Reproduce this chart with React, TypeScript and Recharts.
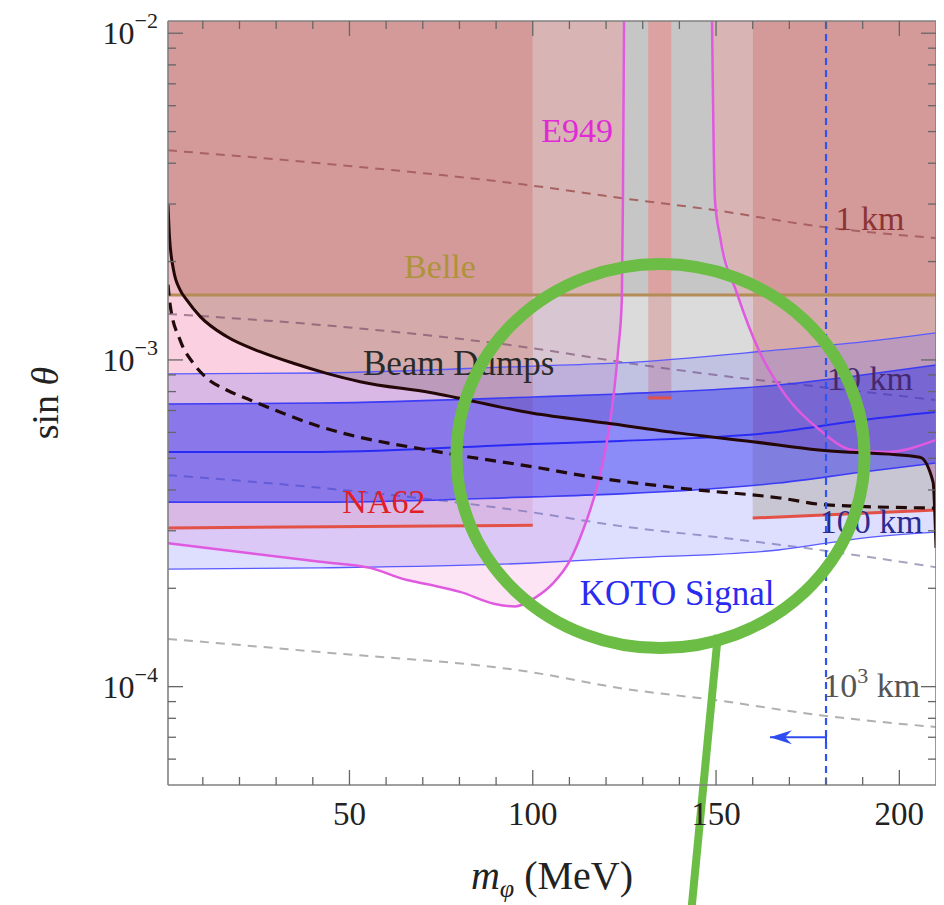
import React from 'react';
import {
  Area,
  ComposedChart,
  Line,
  ReferenceDot,
  ReferenceLine,
  XAxis,
  YAxis,
} from 'recharts';

const SERIF = "'Liberation Serif', 'Times New Roman', serif";

// plot window
const X_MIN = 0.5;
const X_MAX = 210;
const BOTTOM = 5e-5;
const TOP = 1.09e-2;

const xTicks = [10, 20, 30, 40, 50, 60, 70, 80, 90, 100, 110, 120, 130, 140, 150, 160, 170, 180, 190, 200];
const yTicks = [
  6e-5, 7e-5, 8e-5, 9e-5, 1e-4, 2e-4, 3e-4, 4e-4, 5e-4, 6e-4, 7e-4, 8e-4, 9e-4,
  1e-3, 2e-3, 3e-3, 4e-3, 5e-3, 6e-3, 7e-3, 8e-3, 9e-3, 1e-2,
];
const yMajor = [1e-4, 1e-3, 1e-2];

// KOTO signal bands
const kotoX = [0.5, 42, 100, 124, 167, 190, 210];
const kotoOuterLow = [2.29e-4, 2.31e-4, 2.39e-4, 2.47e-4, 2.62e-4, 2.85e-4, 2.97e-4];
const kotoInnerLow = [3.67e-4, 3.67e-4, 3.81e-4, 3.89e-4, 4.2e-4, 4.54e-4, 4.84e-4];
const kotoCentral = [5.23e-4, 5.23e-4, 5.53e-4, 5.65e-4, 6.02e-4, 6.55e-4, 6.93e-4];
const kotoInnerHigh = [7.33e-4, 7.38e-4, 7.7e-4, 7.87e-4, 8.38e-4, 8.99e-4, 9.65e-4];
const kotoOuterHigh = [9.06e-4, 9.12e-4, 9.58e-4, 9.79e-4, 1.073e-3, 1.135e-3, 1.21e-3];

// beam dump bound (solid) and projection (dashed)
const dumpX = [0.5, 0.9, 2, 3.8, 5.6, 9.3, 16.5, 25.6, 34.7, 43.8, 52.9, 72, 100, 120, 140, 160, 178, 205.6, 209.2, 210];
const dumpY = [
  2.98e-3, 2.385e-3, 1.887e-3, 1.639e-3, 1.527e-3, 1.357e-3, 1.179e-3, 1.06e-3, 9.77e-4, 9.1e-4,
  8.58e-4, 7.95e-4, 6.87e-4, 6.41e-4, 5.97e-4, 5.62e-4, 5.3e-4, 5.04e-4, 4.23e-4, 2.66e-4,
];
const dumpDashX = [0.5, 1.1, 3.8, 7.4, 11.1, 16.5, 22.9, 42, 76.5, 100, 115.6, 140.2, 167.4, 180.2, 210];
const dumpDashY = [
  1.7e-3, 1.47e-3, 1.15e-3, 9.77e-4, 8.79e-4, 8.09e-4, 7.54e-4, 6.25e-4, 5.18e-4, 4.71e-4,
  4.39e-4, 4.05e-4, 3.78e-4, 3.6e-4, 3.52e-4,
];

// Belle
const BELLE = 1.58e-3;
const belleX = [0.5, 210];
const belleY = [BELLE, BELLE];

// NA62
const na62LeftX = [0.5, 100];
const na62LeftY = [3.06e-4, 3.12e-4];
const na62RightX = [160, 210];
const na62RightY = [3.28e-4, 3.47e-4];
const na62PeakX = [131.5, 137.8];
const na62PeakY = [7.65e-4, 7.65e-4];

// E949
const e949LeftX = [0.5, 22.9, 42, 55.6, 65.7, 72, 80.2, 89.7, 95.2, 100.6, 105.5, 110.2, 113.7, 117.5, 120.3, 121.9, 123.3, 124.3, 124.6, 124.9];
const e949LeftY = [
  2.75e-4, 2.56e-4, 2.41e-4, 2.31e-4, 2.12e-4, 2.05e-4, 1.95e-4, 1.79e-4, 1.76e-4, 1.87e-4,
  2.07e-4, 2.44e-4, 3.01e-4, 4.08e-4, 5.69e-4, 7.54e-4, 1.073e-3, 1.527e-3, 3.09e-3, 1.09e-2,
];
const e949RightX = [148.9, 149.7, 151.1, 155.7, 162, 169.3, 178.3, 187.3, 196.6, 210];
const e949RightY = [1.09e-2, 3.09e-3, 2.38e-3, 1.6e-3, 1.051e-3, 7.7e-4, 6.1e-4, 5.3e-4, 5.23e-4, 5.69e-4];

// decay length contours
const lengthX = [0.5, 42, 99.5, 124, 150, 178.3, 210];
const km1 = [4.38e-3, 4.0e-3, 3.42e-3, 3.13e-3, 2.87e-3, 2.56e-3, 2.36e-3];
const km10 = [1.383e-3, 1.28e-3, 1.088e-3, 9.86e-4, 8.99e-4, 8.27e-4, 7.54e-4];
const km100 = [4.44e-4, 4.06e-4, 3.42e-4, 3.1e-4, 2.87e-4, 2.62e-4, 2.32e-4];
const km1000 = [1.4e-4, 1.276e-4, 1.108e-4, 9.89e-5, 9.09e-5, 8.18e-5, 7.52e-5];

// kinematic limit and arrow
const KAON_LIMIT = 180;
const arrowX = [164.7, 180];
const arrowY = [7e-5, 7e-5];

// pion window
const windowX = [100, 160];
const e949TopEdge = 124.6;

const labels = [
  { text: 'E949', x: 112.1, y: 4.64e-3, color: '#e02ad8', size: 34 },
  { text: 'Belle', x: 74.7, y: 1.777e-3, color: '#ad933a', size: 34 },
  { text: 'Beam Dumps', x: 79.8, y: 8.99e-4, color: '#2a2a2a', size: 35 },
  { text: 'NA62', x: 59.4, y: 3.4e-4, color: '#e21e26', size: 34 },
  { text: 'KOTO Signal', x: 139.4, y: 1.777e-4, color: '#2a2af0', size: 35 },
  { text: '1 km', x: 192, y: 2.49e-3, color: '#8c3434', size: 34 },
  { text: '10 km', x: 192, y: 8.09e-4, color: '#46286e', size: 34 },
  { text: '100 km', x: 192.3, y: 2.95e-4, color: '#2a2a90', size: 34 },
  { text: '10', sup: '3', after: ' km', x: 192.5, y: 9.29e-5, color: '#555555', size: 34 },
];

// annotation
const circleCenter = { x: 134.85, y: 5.08e-4 };
const pointerLine = [
  { x: 150.5, y: 1.44e-4 },
  { x: 143.4, y: 2.14e-5 },
];

type P = { x: number; y: number };
const pts = (xs: number[], ys: number[]): P[] => xs.map((x, i) => ({ x, y: ys[i] }));
const toTop = (p: P[]) => p.map(({ x, y }) => ({ x, r: [y, TOP] }));
const between = (xs: number[], lo: number[], hi: number[]) => xs.map((x, i) => ({ x, r: [lo[i], hi[i]] }));
const box = (x1: number, x2: number, y1: number, y2: number) => [
  { x: x1, r: [y1, y2] },
  { x: x2, r: [y1, y2] },
];

const dump = pts(dumpX, dumpY);
const dumpLeft = dump.filter((p) => p.x <= windowX[0]);
const dumpRight = dump.filter((p) => p.x >= windowX[1]);
const dumpWindow = dump.filter((p) => p.x >= windowX[0] && p.x <= windowX[1]);
const e949R = pts(e949RightX, e949RightY);

const fills: { key: string; data: any[]; color: string; type?: any }[] = [
  { key: 'e949L', data: toTop(pts(e949LeftX, e949LeftY)), color: '#fce4f4' },
  { key: 'e949R', data: toTop(e949R), color: '#fce4f4' },
  { key: 'na62L', data: toTop(pts(na62LeftX, na62LeftY)), color: '#fbd0e0', type: 'linear' },
  { key: 'bellePink', data: box(na62LeftX[0], windowX[0], BELLE, TOP), color: '#f0bcc6', type: 'linear' },
  { key: 'dumpL', data: toTop(dumpLeft), color: '#d4aaaa' },
  { key: 'belleL', data: dumpLeft.map(({ x, y }) => ({ x, r: [Math.max(y, BELLE), TOP] })), color: '#d49a9a', type: 'linear' },
  { key: 'winLow', data: dumpWindow.map(({ x, y }) => ({ x, r: [y, BELLE] })), color: 'rgba(90,90,90,0.22)' },
  { key: 'winTopL', data: box(windowX[0], e949TopEdge, BELLE, TOP), color: '#d8b4b4', type: 'linear' },
  { key: 'winTopM', data: box(e949TopEdge, windowX[1], BELLE, TOP), color: '#c6c6c6', type: 'linear' },
  {
    key: 'winTopR',
    data: [
      ...e949R.filter((p) => p.x < windowX[1]).map(({ x, y }) => ({ x, r: [Math.max(y, BELLE), TOP] })),
      { x: windowX[1], r: [BELLE, TOP] },
    ],
    color: '#d8b4b4',
    type: 'linear',
  },
  { key: 'peakLow', data: box(na62PeakX[0], na62PeakX[1], na62PeakY[0], BELLE), color: '#d8b6b6', type: 'linear' },
  { key: 'peakTop', data: box(na62PeakX[0], na62PeakX[1], BELLE, TOP), color: '#dca2a2', type: 'linear' },
  { key: 'na62R', data: toTop(pts(na62RightX, na62RightY)), color: '#e4e2c8', type: 'linear' },
  { key: 'dumpR', data: toTop(dumpRight), color: '#d4aaaa' },
  { key: 'belleR', data: box(windowX[1], X_MAX, BELLE, TOP), color: '#d49a9a', type: 'linear' },
];

const contours = [
  { key: 'km1', ys: km1, color: '#a86262' },
  { key: 'km10', ys: km10, color: 'rgba(110,70,100,0.6)' },
  { key: 'km100', ys: km100, color: 'rgba(105,105,150,0.6)' },
  { key: 'km1000', ys: km1000, color: '#b0b0b0' },
];

const AXIS = { stroke: '#808080', strokeWidth: 1.6 };
const TICK = '#666';

const BottomTick = (props: any) => {
  const { x, y, payload } = props;
  const major = payload.value % 50 === 0;
  return (
    <g>
      <line x1={x} x2={x} y1={y} y2={y - (major ? 15 : 8)} stroke={TICK} strokeWidth={1.3} />
      {major && (
        <text x={x} y={y + 40} textAnchor="middle" fontFamily={SERIF} fontSize={33} fill="#222">
          {payload.value}
        </text>
      )}
    </g>
  );
};

const TopTick = (props: any) => {
  const { x, y, payload } = props;
  const major = payload.value % 50 === 0;
  return <line x1={x} x2={x} y1={y} y2={y + (major ? 15 : 8)} stroke={TICK} strokeWidth={1.3} />;
};

const LeftTick = (props: any) => {
  const { x, y, payload } = props;
  const v = payload.value;
  const major = yMajor.includes(v);
  return (
    <g>
      <line x1={x} x2={x + (major ? 15 : 8)} y1={y} y2={y} stroke={TICK} strokeWidth={1.3} />
      {major && (
        <text x={x - 10} y={y + 11} textAnchor="end" fontFamily={SERIF} fontSize={32} fill="#222">
          10
          <tspan fontSize={22} dy={-16}>
            {'\u2212' + Math.abs(Math.round(Math.log10(v)))}
          </tspan>
        </text>
      )}
    </g>
  );
};

const RightTick = (props: any) => {
  const { x, y, payload } = props;
  const major = yMajor.includes(payload.value);
  return <line x1={x} x2={x - (major ? 15 : 8)} y1={y} y2={y} stroke={TICK} strokeWidth={1.3} />;
};

const XLabel = (props: any) => {
  const vb = props.viewBox;
  return (
    <text x={vb.x + vb.width / 2} y={vb.y + 104} textAnchor="middle" fontFamily={SERIF} fontSize={40} fill="#222">
      <tspan fontStyle="italic">m</tspan>
      <tspan fontStyle="italic" fontSize={26} dy={8}>
        φ
      </tspan>
      <tspan dy={-8}> (MeV)</tspan>
    </text>
  );
};

const YLabel = (props: any) => {
  const vb = props.viewBox;
  const cx = vb.x + 37;
  const cy = vb.y + vb.height / 2;
  return (
    <text
      x={cx}
      y={cy}
      transform={`rotate(-90 ${cx} ${cy})`}
      textAnchor="middle"
      dominantBaseline="central"
      fontFamily={SERIF}
      fontSize={38}
      fill="#222"
    >
      sin <tspan fontStyle="italic">θ</tspan>
    </text>
  );
};

const ArrowDot = (props: any) => {
  const { cx, cy, index } = props;
  if (index === 0) {
    return (
      <path key={index} d={`M${cx},${cy} L${cx + 22},${cy - 7} L${cx + 15},${cy} L${cx + 22},${cy + 7} Z`} fill="#2f4cf0" />
    );
  }
  return <line key={index} x1={cx} x2={cx} y1={cy - 6} y2={cy + 6} stroke="#2f4cf0" strokeWidth={2} />;
};

export default function App() {
  return (
    <ComposedChart width={936} height={897} margin={{ top: 12, right: 0, bottom: 0, left: 0 }}>
      {fills.map((f) => (
        <Area
          key={f.key}
          data={f.data}
          dataKey="r"
          type={f.type ?? 'monotone'}
          fill={f.color}
          fillOpacity={1}
          stroke="none"
          isAnimationActive={false}
        />
      ))}

      {contours.map((c) => (
        <Area
          key={c.key}
          data={pts(lengthX, c.ys)}
          dataKey="y"
          type="monotone"
          fill="none"
          stroke={c.color}
          strokeWidth={2}
          strokeDasharray="9 7"
          isAnimationActive={false}
        />
      ))}

      <Area
        data={between(kotoX, kotoOuterLow, kotoOuterHigh)}
        dataKey="r"
        type="monotone"
        fill="rgba(90,90,255,0.2)"
        fillOpacity={1}
        stroke="none"
        isAnimationActive={false}
      />
      <Area
        data={between(kotoX, kotoInnerLow, kotoInnerHigh)}
        dataKey="r"
        type="monotone"
        fill="rgba(40,40,240,0.45)"
        fillOpacity={1}
        stroke="none"
        isAnimationActive={false}
      />

      {[kotoOuterLow, kotoOuterHigh].map((ys, i) => (
        <Line key={`o${i}`} data={pts(kotoX, ys)} dataKey="y" type="monotone" stroke="#5a5aff" strokeWidth={1.3} dot={false} isAnimationActive={false} />
      ))}
      {[kotoInnerLow, kotoInnerHigh].map((ys, i) => (
        <Line key={`i${i}`} data={pts(kotoX, ys)} dataKey="y" type="monotone" stroke="#3c3cf5" strokeWidth={1.6} dot={false} isAnimationActive={false} />
      ))}
      <Line data={pts(kotoX, kotoCentral)} dataKey="y" type="monotone" stroke="#2a2af5" strokeWidth={2} dot={false} isAnimationActive={false} />

      <Line data={pts(belleX, belleY)} dataKey="y" type="linear" stroke="#b48c55" strokeWidth={3} dot={false} isAnimationActive={false} />

      <Line data={pts(na62LeftX, na62LeftY)} dataKey="y" type="linear" stroke="#e25046" strokeWidth={3} dot={false} isAnimationActive={false} />
      <Line data={pts(na62RightX, na62RightY)} dataKey="y" type="linear" stroke="#e25046" strokeWidth={3} dot={false} isAnimationActive={false} />
      <Line data={pts(na62PeakX, na62PeakY)} dataKey="y" type="linear" stroke="#e25046" strokeWidth={3} dot={false} isAnimationActive={false} />

      <Line data={pts(e949LeftX, e949LeftY)} dataKey="y" type="monotone" stroke="#e05ae0" strokeWidth={2.5} dot={false} isAnimationActive={false} />
      <Line data={pts(e949RightX, e949RightY)} dataKey="y" type="monotone" stroke="#e05ae0" strokeWidth={2.5} dot={false} isAnimationActive={false} />

      <Line data={dump} dataKey="y" type="monotone" stroke="#240808" strokeWidth={3} dot={false} isAnimationActive={false} />
      <Line
        data={pts(dumpDashX, dumpDashY)}
        dataKey="y"
        type="monotone"
        stroke="#200a0a"
        strokeWidth={3.2}
        strokeDasharray="11 7"
        dot={false}
        isAnimationActive={false}
      />

      <Line data={pts(arrowX, arrowY)} dataKey="y" type="linear" stroke="#2f4cf0" strokeWidth={2} dot={ArrowDot} isAnimationActive={false} />

      <ReferenceLine x={KAON_LIMIT} stroke="#2f55ee" strokeWidth={2.2} strokeDasharray="7 5" />

      {labels.map((l) => (
        <ReferenceDot
          key={l.text + (l.after ?? '')}
          x={l.x}
          y={l.y}
          r={0}
          ifOverflow="visible"
          shape={(p: any) => (
            <text x={p.cx} y={p.cy} textAnchor="middle" fontFamily={SERIF} fontSize={l.size} fill={l.color}>
              {l.text}
              {l.sup && (
                <tspan fontSize={22} dy={-14}>
                  {l.sup}
                </tspan>
              )}
              {l.after && <tspan dy={l.sup ? 14 : 0}>{l.after}</tspan>}
            </text>
          )}
        />
      ))}

      <ReferenceDot
        x={circleCenter.x}
        y={circleCenter.y}
        r={0}
        ifOverflow="visible"
        shape={(p: any) => <ellipse cx={p.cx} cy={p.cy} rx={204} ry={192} fill="none" stroke="#6cbd45" strokeWidth={12} />}
      />
      <ReferenceLine segment={pointerLine} ifOverflow="visible" stroke="#6cbd45" strokeWidth={8} />

      <XAxis
        dataKey="x"
        type="number"
        domain={[X_MIN, X_MAX]}
        allowDataOverflow
        ticks={xTicks}
        interval={0}
        tick={BottomTick}
        tickLine={false}
        tickSize={0}
        tickMargin={0}
        height={120}
        axisLine={AXIS}
        label={XLabel}
      />
      <XAxis
        xAxisId="top"
        orientation="top"
        dataKey="x"
        type="number"
        domain={[X_MIN, X_MAX]}
        allowDataOverflow
        ticks={xTicks}
        interval={0}
        tick={TopTick}
        tickLine={false}
        tickSize={0}
        tickMargin={0}
        height={1}
        axisLine={AXIS}
      />
      <YAxis
        type="number"
        scale="log"
        domain={[BOTTOM, TOP]}
        allowDataOverflow
        ticks={yTicks}
        interval={0}
        tick={LeftTick}
        tickLine={false}
        tickSize={0}
        tickMargin={0}
        width={160}
        axisLine={AXIS}
        label={YLabel}
      />
      <YAxis
        yAxisId="right"
        orientation="right"
        type="number"
        scale="log"
        domain={[BOTTOM, TOP]}
        allowDataOverflow
        ticks={yTicks}
        interval={0}
        tick={RightTick}
        tickLine={false}
        tickSize={0}
        tickMargin={0}
        width={8}
        axisLine={AXIS}
      />
    </ComposedChart>
  );
}
